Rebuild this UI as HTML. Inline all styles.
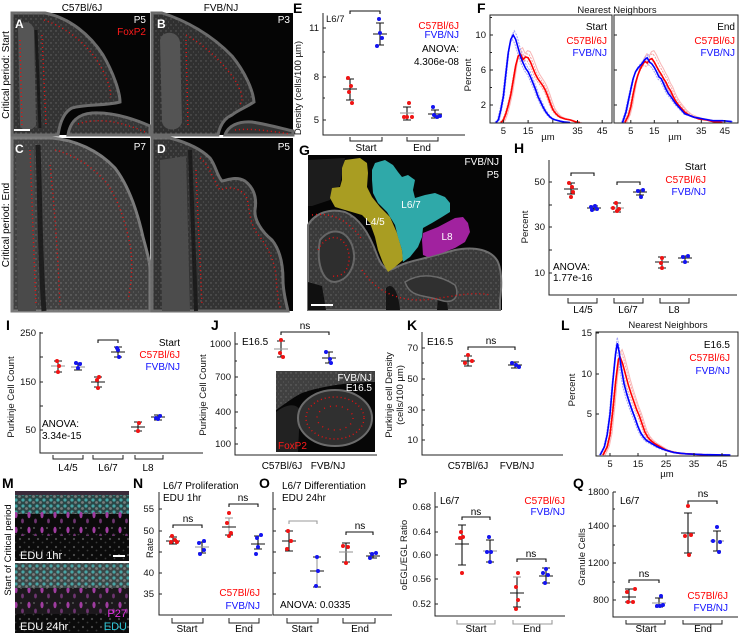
<!DOCTYPE html>
<html><head><meta charset="utf-8"><style>
html,body{margin:0;padding:0;background:#fff;}
svg{display:block;}
text{font-family:"Liberation Sans",Arial,sans-serif;}
.tk{font-size:9.5px;fill:#111;}
.lg{font-size:10px;}
.ax{stroke:#222;stroke-width:1;fill:none;}
.bk{stroke:#111;stroke-width:1.1;fill:none}
.gy{stroke:#9a9a9a;stroke-width:1.1;fill:none}
.rd{fill:#f01414}
.bd{fill:#1414f0}
.let{font-size:14px;font-weight:bold;fill:#000}
.wl{font-size:12px;font-weight:bold;fill:#fff}
.pk{stroke:#e81010;stroke-width:1.4;stroke-dasharray:1 3;fill:none}
</style></head><body>
<svg width="740" height="635" viewBox="0 0 740 635" xmlns="http://www.w3.org/2000/svg">
<defs>
<polyline id="fsb" fill="none" points="495.9,122.5 498.4,119.9 500.9,109.4 503.4,96.3 505.8,74.4 508.3,52.5 510.8,39.4 513.2,35 515.7,39.4 518.2,48.1 520.6,56.9 523.1,63 525.6,68.3 528.1,71.8 530.5,77 533,83.1 535.5,89.3 537.9,96.3 540.4,101.5 542.9,106.8 545.3,111.1 547.8,114.6 550.3,117.3 552.8,119 555.2,119.9 560.2,121.2 565.1,122.1 570,122.5"/>
<polyline id="fsr" fill="none" points="500.9,122.5 503.4,119.9 505.8,113.8 508.3,105 510.8,94.5 513.2,80.5 515.7,65.6 518.2,56 520.6,54.3 523.1,59.5 525.6,56.9 528.1,57.8 530.5,62.1 533,68.3 535.5,74.4 537.9,78.8 540.4,82.3 542.9,85.8 545.3,90.1 547.8,96.3 550.3,103.3 552.8,109.4 555.2,112.9 557.7,115.5 560.2,117.3 565.1,119 570,119.9 575,121.6 579.9,122.5"/>
<polyline id="feb" fill="none" points="622.5,122.5 626,112 628.4,100.6 630.8,89.3 633.1,78.8 635.5,71.8 637.8,68.3 640.2,65.6 642.5,63 644.9,59.5 647.2,57.8 649.6,62.1 651.9,63.9 654.3,67.4 656.6,71.8 659,77 661.3,78.8 663.7,84 666,89.3 668.4,93.6 670.7,96.3 673.1,99.8 675.4,103.3 677.8,105.9 680.1,108.5 682.5,111.1 684.8,113.8 689.5,115.5 694.2,117.3 698.9,118.1 703.6,119 708.3,119.9 713,120.7 722.4,120.7 731.8,121.6"/>
<polyline id="fer" fill="none" points="624.9,122.5 628.4,115.5 630.8,106.8 633.1,94.5 635.5,83.1 637.8,75.3 640.2,69.1 642.5,64.8 644.9,61.3 647.2,63 649.6,59.5 651.9,58.6 654.3,62.1 656.6,66.5 659,70.9 661.3,74.4 663.7,78.8 666,82.3 668.4,87.5 670.7,91 673.1,96.3 675.4,100.6 677.8,104.1 680.1,106.8 682.5,109.4 684.8,112 689.5,115.5 694.2,117.3 698.9,119 706,119.9 713,121.6 722.4,122.5"/>
<polyline id="lb" fill="none" points="600.2,455 604.4,446.9 607.2,434.8 610,414.5 612.8,382.1 615.6,353.8 617.3,343.2 619,351.3 621.2,367.5 624,383.7 626.8,394.3 629.6,403.2 632.4,411.3 635.2,418.6 638,426.7 640.8,433.1 643.6,437.2 646.4,440.4 649.2,442 652,443.7 657.6,446.9 663.2,449.3 668.8,451 674.4,452.6 685.6,453.8 702.4,454.6 730.4,455"/>
<polyline id="lr" fill="none" points="603,455 607.2,446.9 610,434.8 612.8,410.5 615.6,382.1 618.4,359.4 620.1,357 622.6,363.5 625.4,374 628.2,384.5 631,393.4 633.8,401.5 636.6,409.6 639.4,416.1 642.2,424.2 645,432.3 647.8,437.2 650.6,440.4 654.8,443.7 660.4,446.9 666,450.1 671.6,451.8 680,453.4 694,454.2 708,455"/>
<path id="tA1" d="M12,13 L45,13 C70,18 90,35 103,55 C113,72 120,92 120,102 C105,106 85,104 72,108 C64,112 60,122 58,135 L12,135 Z"/>
<path id="tA2" d="M68,135 C70,122 78,114 92,113 C112,112 132,118 150,126 L150,135 Z"/>
<path id="tB1" d="M152,13 L162,13 C185,20 212,35 232,56 C245,72 253,90 254,102 C245,108 238,110 232,115 C225,118 220,125 218,135 L152,135 Z"/>
<path id="tB2" d="M225,135 C228,126 238,121 252,122 C265,124 280,128 293,131 L293,135 Z"/>
<path id="tC1" d="M12,138 L52,138 C75,140 98,150 115,168 C128,185 137,210 143,237 C147,252 150,262 150,270 L150,311 L12,311 Z"/>
<path id="tD1" d="M152,138 L170,138 C185,142 200,148 210,158 C216,166 217,176 222,181 C228,180 236,176 245,181 C254,188 257,198 255,210 C254,220 262,232 272,240 C280,250 283,265 283,280 C283,292 286,302 288,311 L152,311 Z"/>
<path id="tG1" d="M308,225 C315,213 330,208 345,212 C360,218 370,235 377,255 C382,268 388,272 395,268 C405,262 418,260 425,258 L455,250 C475,246 492,250 498,262 C502,272 502,285 500,300 L500,310 L308,310 Z"/>
<pattern id="spd" width="5" height="6" patternUnits="userSpaceOnUse"><circle cx="1" cy="1" r="0.7" fill="#8a8a8a"/><circle cx="3.5" cy="4" r="0.6" fill="#6c6c6c"/></pattern>
<pattern id="mag" width="13" height="15" patternUnits="userSpaceOnUse"><ellipse cx="3" cy="5" rx="1.6" ry="3.2" fill="#a03ca0"/><ellipse cx="9.5" cy="11" rx="1.4" ry="2.4" fill="#6e3470"/><circle cx="8" cy="3" r="1" fill="#555"/></pattern>
<pattern id="cyn" width="7" height="6" patternUnits="userSpaceOnUse"><circle cx="2" cy="2" r="1.6" fill="#4cbcbc"/><circle cx="5.5" cy="4.5" r="1.4" fill="#8a8a8a"/></pattern>
<pattern id="gdt" width="9" height="8" patternUnits="userSpaceOnUse"><circle cx="2" cy="3" r="1.1" fill="#4e4e4e"/><circle cx="6.5" cy="6.5" r="0.9" fill="#3a3a3a"/></pattern>
</defs>

<!-- ================= A-D microscopy ================= -->
<text x="82" y="11" text-anchor="middle" style="font-size:10px">C57Bl/6J</text>
<text x="221" y="11" text-anchor="middle" style="font-size:10px">FVB/NJ</text>
<text transform="translate(9,75) rotate(-90)" text-anchor="middle" style="font-size:10px">Critical period: Start</text>
<text transform="translate(9,225) rotate(-90)" text-anchor="middle" style="font-size:10px">Critical period: End</text>

<!-- A -->
<rect x="12" y="13" width="138" height="122" fill="#050505"/>
<use href="#tA1" fill="#333" stroke="#6c6c6c" stroke-width="3"/>
<use href="#tA1" fill="url(#spd)" opacity="0.6"/>
<use href="#tA2" fill="#363636" stroke="#6c6c6c" stroke-width="3"/>
<use href="#tA2" fill="url(#spd)" opacity="0.6"/>
<path d="M18,28 C22,20 32,20 34,30 L36,125 C32,132 22,132 20,125 Z" fill="#555"/>
<path d="M36,30 L40,128" stroke="#1a1a1a" stroke-width="3"/>
<path class="pk" d="M20,40 L22,128"/>
<path class="pk" d="M44,20 C68,28 88,45 100,65 C108,80 112,92 110,98"/>
<path class="pk" d="M78,124 C95,118 118,120 145,132"/>
<path class="pk" d="M42,35 L46,125"/>
<text x="15" y="28" class="wl">A</text>
<text x="146" y="23" text-anchor="end" style="font-size:10px;fill:#fff">P5</text>
<text x="146" y="35" text-anchor="end" style="font-size:10px;fill:#ff1a1a">FoxP2</text>
<rect x="14" y="129" width="16" height="2" fill="#fff"/>

<!-- B -->
<rect x="152" y="13" width="141" height="122" fill="#050505"/>
<use href="#tB1" fill="#303030" stroke="#6a6a6a" stroke-width="3"/>
<use href="#tB1" fill="url(#spd)" opacity="0.55"/>
<use href="#tB2" fill="#333" stroke="#6a6a6a" stroke-width="3"/>
<path d="M160,40 C162,30 178,30 180,42 L182,122 C180,132 164,132 162,122 Z" fill="#545454"/>
<path class="pk" d="M186,35 C205,45 222,62 235,80 C242,92 244,100 240,104"/>
<path class="pk" d="M186,40 L188,128"/>
<path class="pk" d="M235,130 C250,128 270,131 290,134"/>
<text x="157" y="28" class="wl">B</text>
<text x="290" y="23" text-anchor="end" style="font-size:10px;fill:#fff">P3</text>

<!-- C -->
<rect x="12" y="138" width="138" height="173" fill="#050505"/>
<use href="#tC1" fill="#404040" stroke="#7a7a7a" stroke-width="3"/>
<use href="#tC1" fill="url(#spd)" opacity="0.8"/>
<path d="M16,150 L34,150 L36,311 L18,311 Z" fill="#4a4a4a"/>
<path d="M38,145 C40,200 40,260 44,311" stroke="#1e1e1e" stroke-width="5" fill="none"/>
<path class="pk" d="M30,150 C32,200 34,260 36,305"/>
<path class="pk" d="M55,150 C75,155 95,168 108,185 C118,200 125,220 130,245 C133,262 132,280 128,300"/>
<path class="pk" d="M50,165 C55,210 58,260 60,305"/>
<text x="15" y="153" class="wl">C</text>
<text x="146" y="150" text-anchor="end" style="font-size:10px;fill:#fff">P7</text>

<!-- D -->
<rect x="152" y="138" width="141" height="173" fill="#050505"/>
<use href="#tD1" fill="#333" stroke="#6c6c6c" stroke-width="3"/>
<use href="#tD1" fill="url(#spd)" opacity="0.6"/>
<path d="M160,160 L186,156 L190,311 L162,311 Z" fill="#4c4c4c"/>
<path d="M190,150 C192,200 194,260 196,311" stroke="#1c1c1c" stroke-width="4" fill="none"/>
<path class="pk" d="M200,158 C210,166 212,178 220,190 C230,186 240,188 246,196 C250,206 248,218 256,232 C266,244 274,258 276,276 C277,290 278,300 280,308"/>
<path class="pk" d="M196,170 C198,220 200,260 202,305"/>
<text x="157" y="153" class="wl">D</text>
<text x="290" y="150" text-anchor="end" style="font-size:10px;fill:#fff">P5</text>

<!-- ================= E ================= -->
<text x="293" y="13" class="let">E</text>
<path class="ax" d="M323,13V135H465"/>
<path class="ax" d="M323,28h3M323,77h3M323,120h3M323,52h2M323,98h2"/>
<text x="319" y="31" text-anchor="end" class="tk">11</text>
<text x="319" y="80" text-anchor="end" class="tk">8</text>
<text x="319" y="123" text-anchor="end" class="tk">5</text>
<text transform="translate(301,88) rotate(-90)" text-anchor="middle" class="tk">Density (cells/100 µm)</text>
<text x="326" y="22" class="tk">L6/7</text>
<path class="bk" d="M350,14V11H380V14"/>
<text x="459" y="29" text-anchor="end" class="lg" fill="#ff0000">C57Bl/6J</text>
<text x="459" y="38" text-anchor="end" class="lg" fill="#1010ff">FVB/NJ</text>
<text x="459" y="52" text-anchor="end" class="lg">ANOVA:</text>
<text x="459" y="65" text-anchor="end" class="lg">4.306e-08</text>
<path class="bk" d="M350,79V100M346,79H354M346,100H354M343,89H357"/>
<path class="bk" d="M380,23V45M376,23H384M376,45H384M373,34H387"/>
<path class="bk" d="M407,107V120M403,107H411M403,120H411"/><path class="gy" d="M400,113H414"/>
<path class="bk" d="M435,110V118M431,110H439M431,118H439M428,114H442"/>
<g class="rd"><circle cx="348" cy="78" r="2"/><circle cx="351" cy="86" r="2"/><circle cx="349" cy="92" r="2"/><circle cx="352" cy="103" r="2"/><circle cx="409" cy="103" r="2"/><circle cx="404" cy="117" r="2"/><circle cx="407" cy="117" r="2"/><circle cx="412" cy="117" r="2"/></g>
<g class="bd"><circle cx="379" cy="19" r="2"/><circle cx="380" cy="33" r="2"/><circle cx="382" cy="38" r="2"/><circle cx="377" cy="46" r="2"/><circle cx="433" cy="107" r="2"/><circle cx="434" cy="115" r="2"/><circle cx="437" cy="117" r="2"/><circle cx="440" cy="116" r="2"/></g>
<path class="ax" d="M350,137V141H382V137M407,137V141H438V137"/>
<text x="366" y="151" text-anchor="middle" class="lg">Start</text>
<text x="422" y="151" text-anchor="middle" class="lg">End</text>

<!-- ================= F ================= -->
<text x="477" y="13" class="let">F</text>
<text x="617" y="13" text-anchor="middle" class="tk">Nearest Neighbors</text>
<text transform="translate(471,75) rotate(-90)" text-anchor="middle" class="tk">Percent</text>
<g stroke-width="1" fill="none">
<use href="#fsr" transform="translate(1,-6) scale(1,1.05)" stroke="#f7a3a3" stroke-dasharray="2 1"/>
<use href="#fsr" transform="translate(-1,6) scale(1,0.95)" stroke="#f7a3a3" stroke-dasharray="2 1"/>
<use href="#fsr" transform="translate(2,-12) scale(1,1.1)" stroke="#f9b8b8"/>
<use href="#fsb" transform="translate(1,-6) scale(1,1.05)" stroke="#a3a3f7" stroke-dasharray="2 1"/>
<use href="#fsb" transform="translate(-1,6) scale(1,0.95)" stroke="#a3a3f7" stroke-dasharray="2 1"/>
<use href="#fer" transform="translate(1,-9) scale(1,1.07)" stroke="#f7a3a3" stroke-dasharray="2 1"/>
<use href="#fer" transform="translate(-1,8) scale(1,0.93)" stroke="#f7a3a3" stroke-dasharray="2 1"/>
<use href="#fer" transform="translate(2,-15) scale(1,1.12)" stroke="#f9b8b8"/>
<use href="#feb" transform="translate(1,-6) scale(1,1.05)" stroke="#a3a3f7" stroke-dasharray="2 1"/>
<use href="#feb" transform="translate(-1,6) scale(1,0.95)" stroke="#a3a3f7" stroke-dasharray="2 1"/>
<use href="#fsr" stroke="#ff0000" stroke-width="1.6"/>
<use href="#fsb" stroke="#0000ff" stroke-width="1.6"/>
<use href="#fer" stroke="#ff0000" stroke-width="1.6"/>
<use href="#feb" stroke="#0000ff" stroke-width="1.6"/>
</g>
<rect x="490" y="15" width="122" height="108" class="ax"/>
<rect x="614" y="15" width="124" height="108" class="ax"/>
<path class="ax" d="M503.4,123v-3M528.1,123v-3M552.8,123v-3M577.5,123v-3M602.2,123v-3M490,105h3M490,70h3M490,35h3M490,87.5h2M490,52.5h2M490,17.5h2M630.8,123v-3M654.3,123v-3M677.8,123v-3M701.3,123v-3M724.8,123v-3M614,105h3M614,70h3M614,35h3"/>
<text x="486" y="108" text-anchor="end" class="tk">2</text>
<text x="486" y="73" text-anchor="end" class="tk">6</text>
<text x="486" y="38" text-anchor="end" class="tk">10</text>
<g class="tk" text-anchor="middle"><text x="503.4" y="134">5</text><text x="528.1" y="134">15</text><text x="577.5" y="134">35</text><text x="602.2" y="134">45</text><text x="548" y="140">µm</text>
<text x="630.8" y="134">5</text><text x="654.3" y="134">15</text><text x="701.3" y="134">35</text><text x="724.8" y="134">45</text><text x="675" y="140">µm</text></g>
<text x="607" y="30" text-anchor="end" class="lg">Start</text>
<text x="607" y="44" text-anchor="end" class="lg" fill="#ff0000">C57Bl/6J</text>
<text x="607" y="56" text-anchor="end" class="lg" fill="#1010ff">FVB/NJ</text>
<text x="735" y="30" text-anchor="end" class="lg">End</text>
<text x="735" y="44" text-anchor="end" class="lg" fill="#ff0000">C57Bl/6J</text>
<text x="735" y="56" text-anchor="end" class="lg" fill="#1010ff">FVB/NJ</text>

<!-- ================= G ================= -->
<text x="299" y="155" class="let">G</text>
<rect x="308" y="155" width="194" height="155" fill="#050505"/>
<path d="M308,160 L345,158 L340,185 L330,200 L312,206 L308,206 Z" fill="#1c1c1c"/>
<use href="#tG1" fill="#3a3a3a" stroke="#6e6e6e" stroke-width="2"/>
<use href="#tG1" fill="url(#spd)" opacity="0.6"/>
<path d="M320,240 C330,228 345,228 352,245 C358,262 350,280 335,282 C322,282 316,262 320,240 Z" fill="#2e2e2e" stroke="#666" stroke-width="2"/>
<path d="M308,282 L322,286 L326,310 L308,310 Z" fill="#101010"/>
<path d="M386,288 C392,282 398,290 400,310 L386,310 Z" fill="#141414"/>
<path d="M438,296 C442,292 447,298 448,310 L437,310 Z" fill="#141414"/>
<path d="M405,282 C420,272 440,275 455,285 C460,295 455,305 440,300 C425,295 410,298 405,282 Z" fill="#303030" stroke="#6a6a6a" stroke-width="1.5"/>
<path class="pk" d="M318,250 C325,235 342,232 348,250 C352,265 345,278 332,276"/>
<path class="pk" d="M362,270 C375,290 395,300 420,300 C440,300 470,290 490,295"/>
<path class="pk" d="M312,215 C330,212 350,220 362,240"/>
<path d="M345,160 L360,158 L367,163 L368,173 L367,187 L372,197 L380,207 L390,217 L397,233 L402,250 L403,260 L395,267 L388,272 L383,263 L378,250 L375,237 L370,223 L362,215 L345,210 L335,207 L330,198 L332,188 L340,187 L342,180 L342,168 Z" fill="#a99d22"/>
<path d="M375,163 L385,160 L393,165 L398,172 L402,177 L408,175 L415,180 L413,190 L415,198 L425,195 L435,193 L445,197 L450,203 L450,212 L442,217 L432,223 L423,228 L422,237 L418,247 L410,257 L403,262 L402,250 L398,237 L395,225 L387,212 L378,203 L373,193 L372,180 L372,170 Z" fill="#2fa9a9"/>
<path d="M423,233 L438,227 L455,218 L463,217 L468,223 L470,232 L465,242 L455,248 L442,253 L428,257 L423,255 L422,240 Z" fill="#a1229f"/>
<text x="375" y="225" text-anchor="middle" style="font-size:10px;fill:#fff">L4/5</text>
<text x="411" y="208" text-anchor="middle" style="font-size:10px;fill:#fff">L6/7</text>
<text x="447" y="240" text-anchor="middle" style="font-size:10px;fill:#fff">L8</text>
<text x="499" y="165" text-anchor="end" style="font-size:10px;fill:#fff">FVB/NJ</text>
<text x="499" y="178" text-anchor="end" style="font-size:10px;fill:#fff">P5</text>
<rect x="311" y="304" width="22" height="2" fill="#fff"/>

<!-- ================= H ================= -->
<text x="514" y="153" class="let">H</text>
<path class="ax" d="M549,160V295H737"/>
<path class="ax" d="M549,182h3M549,205h3M549,227h3M549,250h3M549,273h3"/>
<text x="545" y="185" text-anchor="end" class="tk">50</text>
<text x="545" y="230" text-anchor="end" class="tk">30</text>
<text x="545" y="276" text-anchor="end" class="tk">10</text>
<text transform="translate(528,227) rotate(-90)" text-anchor="middle" class="tk">Percent</text>
<path class="bk" d="M571,176V173H594V176M617,185V182H640V185"/>
<text x="706" y="170" text-anchor="end" class="lg">Start</text>
<text x="706" y="183" text-anchor="end" class="lg" fill="#ff0000">C57Bl/6J</text>
<text x="706" y="195" text-anchor="end" class="lg" fill="#1010ff">FVB/NJ</text>
<text x="553" y="270" class="lg">ANOVA:</text>
<text x="553" y="281" class="lg">1.77e-16</text>
<path class="bk" d="M571,183V194M567,183H575M567,194H575M564,189H578"/>
<path class="bk" d="M594,206V210M590,206H598M590,210H598M587,208H601"/>
<path class="bk" d="M617,203V212M613,203H621M613,212H621"/><path class="gy" d="M610,208H624"/>
<path class="bk" d="M640,190V195M636,190H644M636,195H644M633,192H647"/>
<path class="bk" d="M662,257V268M658,257H666M658,268H666M655,262H669"/>
<path class="bk" d="M685,256V262M681,256H689M681,262H689M678,258H692"/>
<g class="rd"><circle cx="569" cy="183" r="2"/><circle cx="572" cy="187" r="2"/><circle cx="573" cy="192" r="2"/><circle cx="571" cy="197" r="2"/><circle cx="616" cy="203" r="2"/><circle cx="613" cy="208" r="2"/><circle cx="619" cy="209" r="2"/><circle cx="617" cy="211" r="2"/><circle cx="662" cy="258" r="2"/><circle cx="661" cy="263" r="2"/><circle cx="662" cy="268" r="2"/></g>
<g class="bd"><circle cx="591" cy="207" r="2"/><circle cx="595" cy="206" r="2"/><circle cx="597" cy="209" r="2"/><circle cx="592" cy="210" r="2"/><circle cx="638" cy="191" r="2"/><circle cx="643" cy="190" r="2"/><circle cx="641" cy="197" r="2"/><circle cx="683" cy="257" r="2"/><circle cx="688" cy="256" r="2"/><circle cx="685" cy="262" r="2"/></g>
<path class="ax" d="M568,298V303H597V298M614,298V303H643V298M660,298V303H689V298"/>
<text x="583" y="313" text-anchor="middle" class="lg">L4/5</text>
<text x="628" y="313" text-anchor="middle" class="lg">L6/7</text>
<text x="674" y="313" text-anchor="middle" class="lg">L8</text>

<!-- ================= I ================= -->
<text x="6" y="330" class="let">I</text>
<path class="ax" d="M40,332V453H203"/>
<path class="ax" d="M40,333h3M40,357h3M40,382h3M40,406h3M40,430h3"/>
<text x="36" y="336" text-anchor="end" class="tk">250</text>
<text x="36" y="385" text-anchor="end" class="tk">150</text>
<text x="36" y="433" text-anchor="end" class="tk">50</text>
<text transform="translate(14,397) rotate(-90)" text-anchor="middle" class="tk">Purkinje Cell Count</text>
<path class="bk" d="M98,343V340H118V343"/>
<text x="180" y="346" text-anchor="end" class="lg">Start</text>
<text x="180" y="358" text-anchor="end" class="lg" fill="#ff0000">C57Bl/6J</text>
<text x="180" y="370" text-anchor="end" class="lg" fill="#1010ff">FVB/NJ</text>
<text x="42" y="427" class="lg">ANOVA:</text>
<text x="42" y="439" class="lg">3.34e-15</text>
<path class="bk" d="M58,361V372M54,361H62M54,372H62"/><path class="gy" d="M51,366H65"/>
<path class="bk" d="M78,363V370M74,363H82M74,370H82"/><path class="gy" d="M71,367H85"/>
<path class="bk" d="M98,377V387M94,377H102M94,387H102M91,382H105"/>
<path class="bk" d="M118,347V357M114,347H122M114,357H122M111,352H125"/>
<path class="bk" d="M138,422V431M134,422H142M134,431H142M131,427H145"/>
<path class="bk" d="M158,415V420M154,415H162M154,420H162M151,417H165"/>
<g class="rd"><circle cx="57" cy="361" r="2"/><circle cx="59" cy="366" r="2"/><circle cx="58" cy="372" r="2"/><circle cx="99" cy="377" r="2"/><circle cx="97" cy="380" r="2"/><circle cx="98" cy="388" r="2"/><circle cx="139" cy="423" r="2"/><circle cx="138" cy="431" r="2"/></g>
<g class="bd"><circle cx="76" cy="363" r="2"/><circle cx="80" cy="364" r="2"/><circle cx="78" cy="368" r="2"/><circle cx="117" cy="348" r="2"/><circle cx="118" cy="350" r="2"/><circle cx="119" cy="357" r="2"/><circle cx="156" cy="418" r="2"/><circle cx="160" cy="416" r="2"/><circle cx="158" cy="419" r="2"/></g>
<path class="ax" d="M53,455V459H83V455M93,455V459H123V455M135,455V459H163V455"/>
<text x="68" y="471" text-anchor="middle" class="lg">L4/5</text>
<text x="108" y="471" text-anchor="middle" class="lg">L6/7</text>
<text x="148" y="471" text-anchor="middle" class="lg">L8</text>

<!-- ================= J ================= -->
<text x="211" y="330" class="let">J</text>
<path class="ax" d="M235,332V455H377"/>
<path class="ax" d="M235,344h3M235,361h2M235,377h3M235,395h2M235,412h3M235,428h2M235,444h3"/>
<text x="231" y="347" text-anchor="end" class="tk">1000</text>
<text x="231" y="380" text-anchor="end" class="tk">700</text>
<text x="231" y="415" text-anchor="end" class="tk">400</text>
<text x="231" y="447" text-anchor="end" class="tk">100</text>
<text transform="translate(206,395) rotate(-90)" text-anchor="middle" class="tk">Purkinje Cell Count</text>
<text x="242" y="345" class="lg">E16.5</text>
<path class="bk" d="M281,335V332H329V335"/>
<text x="305" y="329" text-anchor="middle" class="lg">ns</text>
<path class="bk" d="M281,341V357M277,341H285M277,357H285"/><path class="gy" d="M274,349H288"/>
<path class="bk" d="M329,352V363M325,352H333M325,363H333M322,358H336"/>
<g class="rd"><circle cx="281" cy="340" r="2"/><circle cx="280" cy="353" r="2"/><circle cx="283" cy="357" r="2"/></g>
<g class="bd"><circle cx="326" cy="352" r="2"/><circle cx="330" cy="359" r="2"/><circle cx="331" cy="363" r="2"/></g>
<rect x="276" y="371" width="99" height="81" fill="#070707"/>
<path d="M276,371 H375 V382 C350,382 322,386 302,393 C292,398 285,404 276,410 Z" fill="#404040"/>
<path d="M276,371 H375 V382 C350,382 322,386 302,393 C292,398 285,404 276,410 Z" fill="url(#spd)" opacity="0.6"/>
<path d="M276,412 C285,405 295,402 300,410 L298,452 L276,452 Z" fill="#222"/>
<ellipse cx="335" cy="418" rx="37" ry="28" fill="#303030" stroke="#6c6c6c" stroke-width="2"/>
<ellipse cx="335" cy="418" rx="29" ry="21" class="pk"/>
<ellipse cx="335" cy="418" rx="18" ry="12" class="pk" style="stroke-dasharray:1 5"/>
<text x="372" y="381" text-anchor="end" style="font-size:10px;fill:#fff">FVB/NJ</text>
<text x="372" y="391" text-anchor="end" style="font-size:10px;fill:#fff">E16.5</text>
<text x="278" y="449" style="font-size:10px;fill:#ff1a1a">FoxP2</text>
<text x="282" y="469" text-anchor="middle" class="lg">C57Bl/6J</text>
<text x="328" y="469" text-anchor="middle" class="lg">FVB/NJ</text>

<!-- ================= K ================= -->
<text x="407" y="330" class="let">K</text>
<path class="ax" d="M422,332V455H563"/>
<path class="ax" d="M422,348h3M422,363h2M422,379h3M422,395h2M422,410h3M422,425h2M422,440h3"/>
<text x="418" y="351" text-anchor="end" class="tk">70</text>
<text x="418" y="382" text-anchor="end" class="tk">50</text>
<text x="418" y="413" text-anchor="end" class="tk">30</text>
<text x="418" y="443" text-anchor="end" class="tk">10</text>
<text transform="translate(392,395) rotate(-90)" text-anchor="middle" class="tk">Purkinje cell Density</text>
<text transform="translate(403,395) rotate(-90)" text-anchor="middle" class="tk">(cells/100 µm)</text>
<text x="427" y="345" class="lg">E16.5</text>
<path class="bk" d="M468,350V347H515V350"/>
<text x="491" y="344" text-anchor="middle" class="lg">ns</text>
<path class="bk" d="M468,356V366M464,356H472M464,366H472M461,361H475"/>
<path class="bk" d="M515,362V368M511,362H519M511,368H519M508,365H522"/>
<g class="rd"><circle cx="468" cy="355" r="2"/><circle cx="465" cy="363" r="2"/><circle cx="472" cy="361" r="2"/></g>
<g class="bd"><circle cx="512" cy="363" r="2"/><circle cx="519" cy="367" r="2"/><circle cx="516" cy="365" r="2"/></g>
<text x="468" y="469" text-anchor="middle" class="lg">C57Bl/6J</text>
<text x="517" y="469" text-anchor="middle" class="lg">FVB/NJ</text>

<!-- ================= L ================= -->
<text x="561" y="330" class="let">L</text>
<text x="668" y="328" text-anchor="middle" class="tk">Nearest Neighbors</text>
<text transform="translate(575,390) rotate(-90)" text-anchor="middle" class="tk">Percent</text>
<g fill="none" stroke-width="1">
<use href="#lr" transform="translate(1,-23) scale(1,1.05)" stroke="#f7a3a3" stroke-dasharray="2 1"/>
<use href="#lr" transform="translate(-1,23) scale(1,0.95)" stroke="#f7a3a3" stroke-dasharray="2 1"/>
<use href="#lr" transform="translate(2,-36) scale(1,1.08)" stroke="#f9b8b8"/>
<use href="#lb" transform="translate(0,-23) scale(1,1.05)" stroke="#a3a3f7" stroke-dasharray="2 1"/>
<use href="#lb" transform="translate(-1,23) scale(1,0.95)" stroke="#a3a3f7" stroke-dasharray="2 1"/>
<use href="#lr" stroke="#ff0000" stroke-width="1.6"/>
<use href="#lb" stroke="#0000ff" stroke-width="1.6"/>
</g>
<rect x="596" y="332" width="142" height="124" class="ax"/>
<path class="ax" d="M610,456v-3M638,456v-3M666,456v-3M694,456v-3M722,456v-3M596,374h3M596,414h3M596,333h3"/>
<text x="592" y="336" text-anchor="end" class="tk">15</text>
<text x="592" y="377" text-anchor="end" class="tk">10</text>
<text x="592" y="417" text-anchor="end" class="tk">5</text>
<g class="tk" text-anchor="middle"><text x="610" y="467">5</text><text x="638" y="467">15</text><text x="666" y="467">25</text><text x="694" y="467">35</text><text x="722" y="467">45</text><text x="667" y="477">µm</text></g>
<text x="730" y="348" text-anchor="end" class="lg">E16.5</text>
<text x="730" y="361" text-anchor="end" class="lg" fill="#ff0000">C57Bl/6J</text>
<text x="730" y="374" text-anchor="end" class="lg" fill="#1010ff">FVB/NJ</text>

<!-- ================= M ================= -->
<text x="2" y="488" class="let">M</text>
<text transform="translate(11,550) rotate(-90)" text-anchor="middle" style="font-size:9.5px">Start of Critical period</text>
<rect x="15" y="491" width="114" height="70" fill="#0b0b0b"/>
<rect x="15" y="491" width="114" height="4" fill="#3a2a3a"/>
<rect x="15" y="495" width="114" height="19" fill="#2c4646"/>
<rect x="15" y="495" width="114" height="19" fill="url(#cyn)" opacity="0.8"/>
<rect x="15" y="512" width="114" height="24" fill="url(#mag)"/>
<rect x="15" y="534" width="114" height="27" fill="url(#gdt)"/>
<rect x="15" y="563" width="114" height="70" fill="#0b0b0b"/>
<rect x="15" y="563" width="114" height="28" fill="#3c4848"/>
<rect x="15" y="563" width="114" height="28" fill="url(#cyn)" opacity="0.8"/>
<rect x="15" y="588" width="114" height="26" fill="#1c181c"/>
<rect x="15" y="588" width="114" height="26" fill="url(#mag)"/>
<rect x="15" y="612" width="114" height="21" fill="url(#gdt)"/>
<text x="20" y="559" style="font-size:11px;fill:#fff">EDU 1hr</text>
<rect x="113" y="555" width="12" height="2" fill="#fff"/>
<text x="20" y="630" style="font-size:11px;fill:#fff">EDU 24hr</text>
<text x="127" y="617" text-anchor="end" style="font-size:11px;fill:#e030e0">P27</text>
<text x="127" y="630" text-anchor="end" style="font-size:11px;fill:#30c8d8">EDU</text>

<!-- ================= N ================= -->
<text x="133" y="488" class="let">N</text>
<path class="ax" d="M159,492V615H272"/>
<path class="ax" d="M159,509h3M159,531h3M159,552h3M159,573h3M159,594h3"/>
<text x="154" y="512" text-anchor="end" class="tk">55</text>
<text x="154" y="534" text-anchor="end" class="tk">50</text>
<text x="154" y="576" text-anchor="end" class="tk">40</text>
<text x="154" y="597" text-anchor="end" class="tk">35</text>
<text transform="translate(153,548) rotate(-90)" text-anchor="middle" class="tk">Rate</text>
<text x="163" y="489" class="lg">L6/7 Proliferation</text>
<text x="163" y="501" class="lg">EDU 1hr</text>
<path class="bk" d="M173,528V525H202V528M229,507V504H258V507"/>
<text x="188" y="522" text-anchor="middle" class="lg">ns</text>
<text x="243" y="501" text-anchor="middle" class="lg">ns</text>
<path class="bk" d="M173,537V544M169,537H177M169,544H177M166,541H180"/>
<path class="bk" d="M202,542V553M198,542H206M198,553H206"/><path class="gy" d="M195,547H209"/>
<path class="gy" d="M229,518V535M225,518H233"/><path class="bk" d="M225,535H233M222,527H236"/>
<path class="bk" d="M258,536V549M254,536H262M254,549H262M251,544H265"/>
<g class="rd"><circle cx="172" cy="536" r="2"/><circle cx="175" cy="540" r="2"/><circle cx="177" cy="542" r="2"/><circle cx="171" cy="542" r="2"/><circle cx="229" cy="513" r="2"/><circle cx="227" cy="523" r="2"/><circle cx="229" cy="536" r="2"/><circle cx="231" cy="533" r="2"/></g>
<g class="bd"><circle cx="204" cy="541" r="2"/><circle cx="199" cy="543" r="2"/><circle cx="200" cy="554" r="2"/><circle cx="204" cy="550" r="2"/><circle cx="261" cy="535" r="2"/><circle cx="257" cy="538" r="2"/><circle cx="258" cy="547" r="2"/><circle cx="256" cy="554" r="2"/></g>
<text x="260" y="596" text-anchor="end" class="lg" fill="#ff0000">C57Bl/6J</text>
<text x="260" y="609" text-anchor="end" class="lg" fill="#1010ff">FVB/NJ</text>
<path class="ax" d="M172,618V623H203V618M229,618V623H259V618"/>
<text x="187" y="632" text-anchor="middle" class="lg">Start</text>
<text x="244" y="632" text-anchor="middle" class="lg">End</text>

<!-- ================= O ================= -->
<text x="259" y="488" class="let">O</text>
<path class="ax" d="M273,492V615H392"/>
<path class="ax" d="M273,509h3M273,531h3M273,552h3M273,573h3M273,594h3"/>
<text x="282" y="489" class="lg">L6/7 Differentiation</text>
<text x="282" y="501" class="lg">EDU 24hr</text>
<path class="gy" d="M289,524V521H317V524"/>
<path class="bk" d="M346,535V532H373V535"/>
<text x="360" y="529" text-anchor="middle" class="lg">ns</text>
<path class="bk" d="M289,531V551M285,531H293M285,551H293M282,541H296"/>
<path class="gy" d="M317,557V587"/><path class="bk" d="M313,557H321M313,587H321M310,571H324"/>
<path class="bk" d="M346,543V562M342,543H350M342,562H350"/><path class="gy" d="M339,552H353"/>
<path class="bk" d="M373,553V558M369,553H377M369,558H377M366,556H380"/>
<g class="rd"><circle cx="288" cy="531" r="2"/><circle cx="291" cy="541" r="2"/><circle cx="287" cy="549" r="2"/><circle cx="343" cy="546" r="2"/><circle cx="348" cy="547" r="2"/><circle cx="346" cy="563" r="2"/></g>
<g class="bd"><circle cx="317" cy="557" r="2"/><circle cx="318" cy="571" r="2"/><circle cx="316" cy="586" r="2"/><circle cx="372" cy="554" r="2"/><circle cx="376" cy="553" r="2"/><circle cx="370" cy="558" r="2"/></g>
<text x="280" y="608" class="lg">ANOVA: 0.0335</text>
<path class="ax" d="M287,618V623H318V618M343,618V623H375V618"/>
<text x="302" y="632" text-anchor="middle" class="lg">Start</text>
<text x="360" y="632" text-anchor="middle" class="lg">End</text>

<!-- ================= P ================= -->
<text x="398" y="488" class="let">P</text>
<path class="ax" d="M435,492V616H565"/>
<path class="ax" d="M435,507h3M435,532h3M435,555h3M435,579h3M435,604h3"/>
<text x="431" y="510" text-anchor="end" class="tk">0.68</text>
<text x="431" y="535" text-anchor="end" class="tk">0.64</text>
<text x="431" y="558" text-anchor="end" class="tk">0.60</text>
<text x="431" y="582" text-anchor="end" class="tk">0.56</text>
<text x="431" y="607" text-anchor="end" class="tk">0.52</text>
<text transform="translate(407,555) rotate(-90)" text-anchor="middle" class="tk">oEGL/EGL Ratio</text>
<text x="440" y="504" class="lg">L6/7</text>
<path class="bk" d="M462,520V517H490V520M517,562V559H546V562"/>
<text x="476" y="515" text-anchor="middle" class="lg">ns</text>
<text x="531" y="557" text-anchor="middle" class="lg">ns</text>
<path class="bk" d="M462,525V565M458,525H466M458,565H466M455,544H469"/>
<path class="bk" d="M490,540V562M486,540H494M486,562H494"/><path class="gy" d="M483,551H497"/>
<path class="bk" d="M517,577V607M513,607H521M510,593H524"/><path class="gy" d="M513,577H521"/>
<path class="bk" d="M546,568V583M542,568H550M542,583H550M539,576H553"/>
<g class="rd"><circle cx="460" cy="538" r="2"/><circle cx="463" cy="537" r="2"/><circle cx="461" cy="532" r="2"/><circle cx="462" cy="573" r="2"/><circle cx="518" cy="573" r="2"/><circle cx="516" cy="587" r="2"/><circle cx="518" cy="600" r="2"/><circle cx="516" cy="609" r="2"/></g>
<g class="bd"><circle cx="489" cy="537" r="2"/><circle cx="487" cy="552" r="2"/><circle cx="491" cy="552" r="2"/><circle cx="490" cy="562" r="2"/><circle cx="546" cy="569" r="2"/><circle cx="543" cy="573" r="2"/><circle cx="548" cy="575" r="2"/><circle cx="545" cy="583" r="2"/></g>
<text x="565" y="504" text-anchor="end" class="lg" fill="#ff0000">C57Bl/6J</text>
<text x="565" y="515" text-anchor="end" class="lg" fill="#1010ff">FVB/NJ</text>
<path class="gy" d="M457,620V624H495V620M513,620V624H552V620"/>
<text x="476" y="632" text-anchor="middle" class="lg">Start</text>
<text x="532" y="632" text-anchor="middle" class="lg">End</text>

<!-- ================= Q ================= -->
<text x="573" y="488" class="let">Q</text>
<path class="ax" d="M613,492V617H738"/>
<path class="ax" d="M613,492h3M613,509h2M613,526h3M613,545h2M613,563h3M613,582h2M613,600h3"/>
<text x="609" y="495" text-anchor="end" class="tk">1800</text>
<text x="609" y="529" text-anchor="end" class="tk">1400</text>
<text x="609" y="566" text-anchor="end" class="tk">1200</text>
<text x="609" y="603" text-anchor="end" class="tk">800</text>
<text transform="translate(585,557) rotate(-90)" text-anchor="middle" class="tk">Granule Cells</text>
<text x="620" y="504" class="lg">L6/7</text>
<path class="bk" d="M629,583V580H659V583M688,504V501H717V504"/>
<text x="644" y="577" text-anchor="middle" class="lg">ns</text>
<text x="703" y="497" text-anchor="middle" class="lg">ns</text>
<path class="bk" d="M629,589V602M625,589H633M625,602H633M622,597H636"/>
<path class="bk" d="M659,598V607M655,598H663M655,607H663"/><path class="gy" d="M652,603H666"/>
<path class="bk" d="M688,513V553M684,513H692M684,553H692M681,533H695"/>
<path class="bk" d="M717,531V551M713,531H721M713,551H721"/><path class="gy" d="M710,541H724"/>
<g class="rd"><circle cx="635" cy="589" r="2"/><circle cx="627" cy="592" r="2"/><circle cx="628" cy="602" r="2"/><circle cx="633" cy="602" r="2"/><circle cx="688" cy="506" r="2"/><circle cx="685" cy="536" r="2"/><circle cx="691" cy="535" r="2"/><circle cx="689" cy="555" r="2"/></g>
<g class="bd"><circle cx="661" cy="596" r="2"/><circle cx="657" cy="606" r="2"/><circle cx="660" cy="606" r="2"/><circle cx="663" cy="605" r="2"/><circle cx="717" cy="527" r="2"/><circle cx="713" cy="541" r="2"/><circle cx="720" cy="542" r="2"/><circle cx="719" cy="552" r="2"/></g>
<text x="728" y="599" text-anchor="end" class="lg" fill="#ff0000">C57Bl/6J</text>
<text x="728" y="611" text-anchor="end" class="lg" fill="#1010ff">FVB/NJ</text>
<path class="ax" d="M626,620V624H665V620M683,620V624H722V620"/>
<text x="646" y="632" text-anchor="middle" class="lg">Start</text>
<text x="703" y="632" text-anchor="middle" class="lg">End</text>
</svg>
</body></html>
